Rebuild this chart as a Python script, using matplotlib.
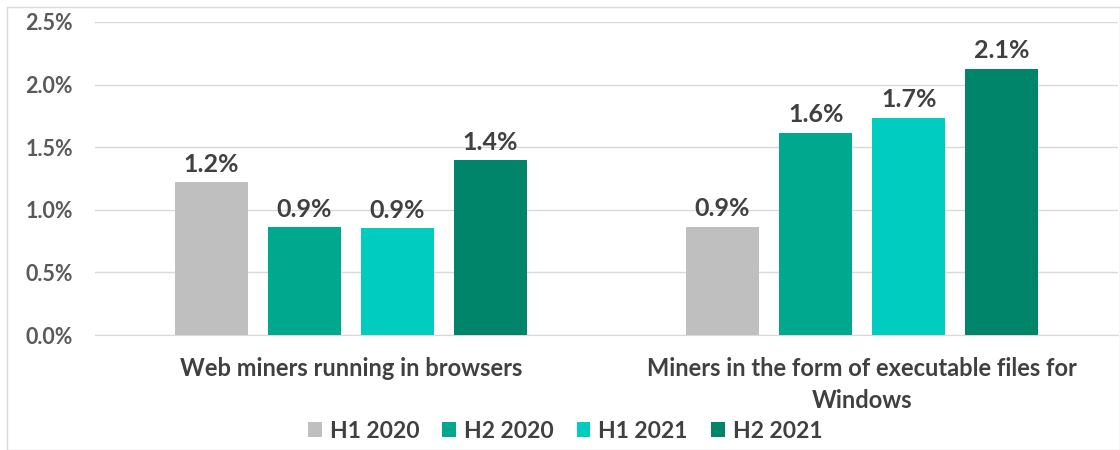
import matplotlib
matplotlib.use('Agg')
import matplotlib.pyplot as plt
import numpy as np
from matplotlib.patches import Rectangle

plt.rcParams['font.family'] = ['Lato', 'DejaVu Sans']

categories = ['Web miners running in browsers',
              'Miners in the form of executable files for\nWindows']
series = ['H1 2020', 'H2 2020', 'H1 2021', 'H2 2021']
values = {
    'H1 2020': [1.22, 0.865],
    'H2 2020': [0.863, 1.616],
    'H1 2021': [0.855, 1.736],
    'H2 2021': [1.398, 2.127],
}
colors = ['#bfbfbf', '#00a88e', '#00ccc0', '#00856a']
yticks = [0.0, 0.5, 1.0, 1.5, 2.0, 2.5]

fig = plt.figure(figsize=(11.2, 4.5), dpi=100)
ax = fig.add_axes([95 / 1120, 1 - 335 / 450, 1023 / 1120, 313 / 450])

x = np.arange(len(categories))
step = 0.182
width = 0.143
for i, s in enumerate(series):
    xs = x + (i - 1.5) * step
    bars = ax.bar(xs, values[s], width, color=colors[i], label=s, zorder=3)
    for b, v in zip(bars, values[s]):
        ax.text(b.get_x() + b.get_width() / 2, v + 0.05, f'{v:.1f}%',
                ha='center', va='bottom', fontsize=18, fontweight='bold',
                color='#404040')

ax.set_xlim(-0.5, 1.5)
ax.set_ylim(0, 2.5)
ax.set_yticks(yticks)
ax.set_yticklabels([f'{t:.1f}%' for t in yticks], fontsize=15.5,
                   fontweight='bold', color='#595959')
ax.set_xticks(x)
ax.set_xticklabels(categories, fontsize=17, fontweight='bold',
                   color='#404040', linespacing=1.45)
ax.tick_params(axis='both', length=0)
ax.tick_params(axis='y', pad=16)
ax.tick_params(axis='x', pad=16)
ax.grid(axis='y', color='#d9d9d9', linewidth=1, zorder=0)
for sp in ['top', 'right', 'left']:
    ax.spines[sp].set_visible(False)
ax.spines['bottom'].set_color('#d9d9d9')

leg = fig.legend(loc='center', bbox_to_anchor=(565 / 1120, 1 - 431 / 450),
                 ncol=4, frameon=False, handlelength=0.6,
                 handleheight=0.6, columnspacing=1.0, handletextpad=0.35,
                 prop={'weight': 'bold', 'size': 16.5})
for t in leg.get_texts():
    t.set_color('#404040')

fig.patches.append(Rectangle((7 / 1120, 0), 1 - 7 / 1120, 1 - 7 / 450,
                             transform=fig.transFigure, fill=False,
                             edgecolor='#d9d9d9', linewidth=1))

fig.savefig('out.png', dpi=100, facecolor='white')
